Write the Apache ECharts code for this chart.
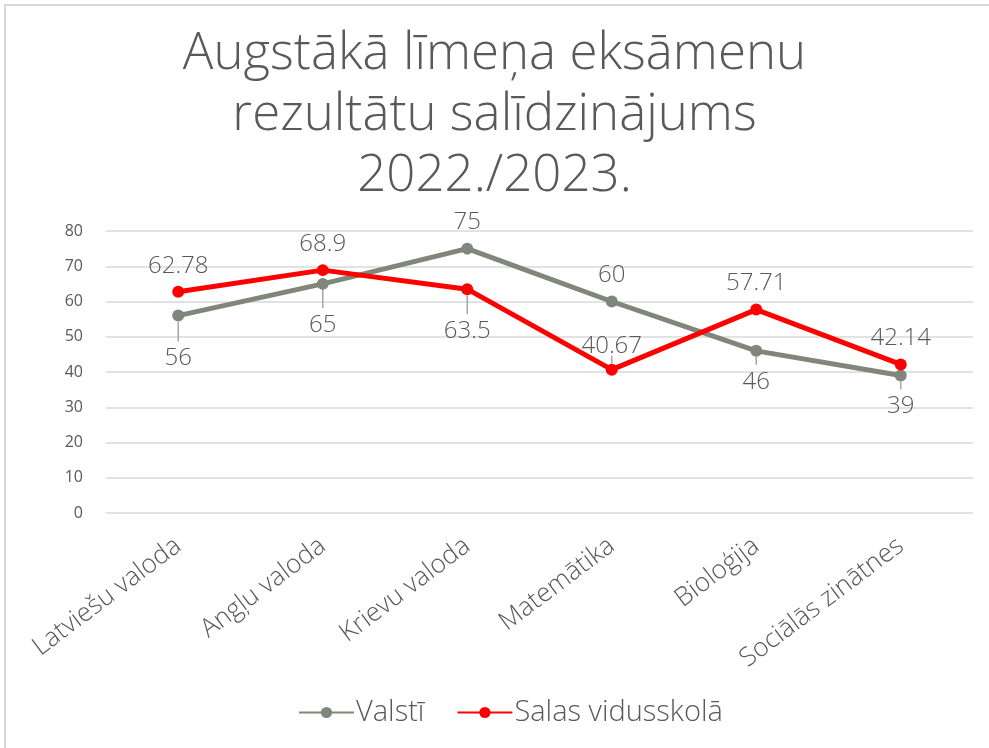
<!DOCTYPE html>
<html>
<head>
<meta charset="utf-8">
<script src="https://cdn.jsdelivr.net/npm/echarts@6/dist/echarts.min.js"></script>
<style>
  html, body { margin: 0; padding: 0; background: #fff; }
  #chart { width: 989px; height: 748px; }
</style>
</head>
<body>
<div id="chart"></div>
<script>
// priekšmeti
const subjects = ['Latviešu valoda', 'Angļu valoda', 'Krievu valoda', 'Matemātika', 'Bioloģija', 'Sociālās zinātnes']
// valsts vidējais
const valsti = [56, 65, 75, 60, 46, 39]
// skolas rezultāts
const salas = [62.78, 68.9, 63.5, 40.67, 57.71, 42.14]
const yTicks = [0, 10, 20, 30, 40, 50, 60, 70, 80]

// etiķešu novietojums un vadlīnijas garums (0 = bez līnijas)
const valstiPos = ['bottom', 'bottom', 'top', 'top', 'bottom', 'bottom']
const valstiLead = [20, 18, 0, 0, 8, 8]
const salasPos = ['top', 'top', 'bottom', 'top', 'top', 'top']
const salasLead = [0, 0, 19, 8, 0, 0]

const font = '"Open Sans", Lato, sans-serif'
const textColor = '#595959'
const leadColor = '#a6a6a6'

const chart = echarts.init(document.getElementById('chart'))

function makeData(values, pos, lead) {
  return values.map((v, i) => {
    const label = { position: pos[i], distance: 8 }
    if (lead[i] > 0) {
      label.distance = 0
      label.formatter = pos[i] === 'bottom' ? '{ln|}\n{v|{c}}' : '{v|{c}}\n{ln|}'
      label.rich = {
        ln: { width: 1.5, height: lead[i], backgroundColor: leadColor, align: 'center' },
        v: {
          align: 'center',
          fontFamily: font,
          fontWeight: 300,
          fontSize: 24,
          color: textColor,
          lineHeight: pos[i] === 'bottom' ? 34 : 18
        }
      }
    }
    return { value: v, label: label }
  })
}

const labelStyle = {
  show: true,
  fontFamily: font,
  fontWeight: 300,
  fontSize: 24,
  color: textColor
}

const option = {
  backgroundColor: '#fff',
  animation: false,
  graphic: [
    {
      type: 'rect',
      shape: { x: 5, y: 5, width: 1100, height: 900 },
      style: { fill: 'none', stroke: '#d9d9d9', lineWidth: 2 },
      silent: true
    }
  ],
  title: {
    text: 'Augstākā līmeņa eksāmenu\nrezultātu salīdzinājums\n2022./2023.',
    left: 'center',
    top: 19,
    textStyle: {
      fontFamily: font,
      fontWeight: 300,
      fontSize: 51,
      lineHeight: 61,
      color: textColor
    }
  },
  legend: {
    bottom: 16,
    left: 293,
    itemWidth: 55,
    itemHeight: 14,
    itemGap: 32,
    textStyle: { fontFamily: font, fontWeight: 300, fontSize: 29, color: textColor, padding: [0, 0, 0, -3] },
    data: ['Valstī', 'Salas vidusskolā']
  },
  grid: {
    left: 106,
    right: 16,
    top: 231,
    bottom: 235
  },
  xAxis: {
    type: 'category',
    data: subjects,
    boundaryGap: true,
    axisLine: { show: false },
    axisTick: { show: false },
    axisLabel: {
      interval: 0,
      rotate: 37,
      margin: 30,
      fontFamily: font,
      fontWeight: 300,
      fontSize: 26,
      color: textColor
    }
  },
  yAxis: {
    type: 'value',
    min: yTicks[0],
    max: yTicks[yTicks.length - 1],
    interval: 10,
    axisLine: { show: false },
    axisTick: { show: false },
    axisLabel: {
      margin: 23,
      fontFamily: font,
      fontSize: 16,
      color: textColor
    },
    splitLine: { lineStyle: { color: '#d9d9d9', width: 1.5 } }
  },
  series: [
    {
      name: 'Valstī',
      type: 'line',
      data: makeData(valsti, valstiPos, valstiLead),
      symbol: 'circle',
      symbolSize: 12,
      itemStyle: { color: '#7f877b' },
      lineStyle: { color: '#7f877b', width: 5 },
      label: labelStyle
    },
    {
      name: 'Salas vidusskolā',
      type: 'line',
      data: makeData(salas, salasPos, salasLead),
      symbol: 'circle',
      symbolSize: 12,
      itemStyle: { color: '#ff0000' },
      lineStyle: { color: '#ff0000', width: 5 },
      label: labelStyle
    }
  ]
}

chart.setOption(option)
</script>
</body>
</html>
